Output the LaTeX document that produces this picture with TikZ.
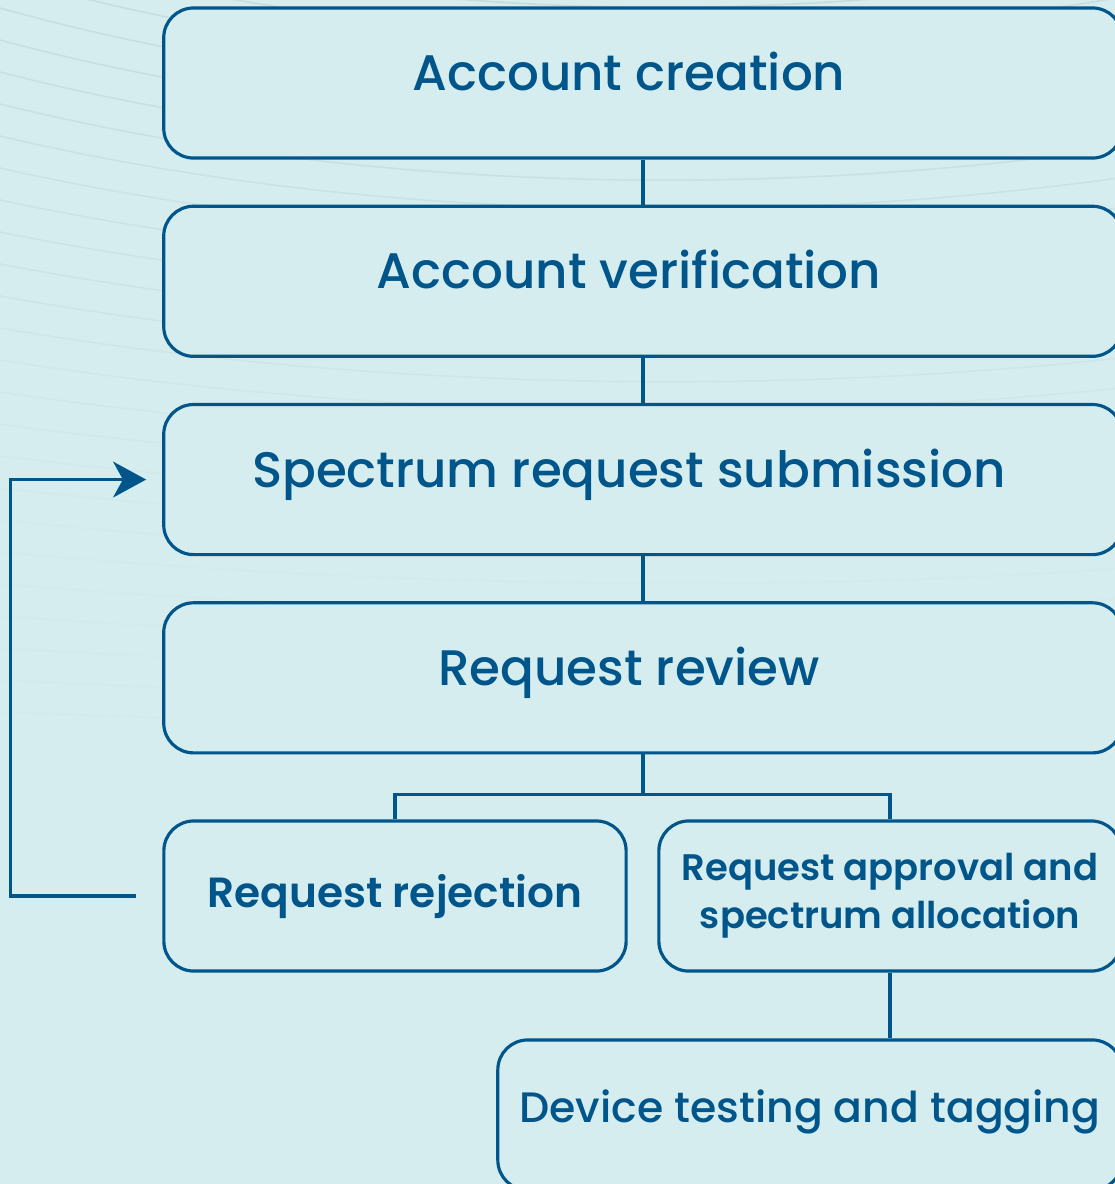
\documentclass[tikz,border=0pt]{standalone}
\usepackage{fontspec}
\setmainfont{Poppins}[UprightFont=* Medium, BoldFont=* SemiBold]
\usetikzlibrary{arrows.meta,calc,positioning}
\definecolor{flowblue}{HTML}{00558A}
\definecolor{paleteal}{HTML}{D5EDEE}
\definecolor{swirl}{HTML}{C2D6D9}

\begin{document}
\begin{tikzpicture}[
  x=0.01cm, y=-0.01cm,
  >={Stealth[length=9.4pt, width=10.2pt, inset=2.8pt]},
  stepbox/.style ={draw=flowblue, fill=paleteal, line width=0.9pt, rounded corners=8.5pt,
                   text=flowblue, inner sep=0pt,
                   minimum width=9.58cm, minimum height=1.5cm,
                   text height=0.37cm, text depth=0.22cm,
                   font=\fontsize{14.2}{17}\selectfont},
  mainbox/.style ={stepbox, execute at end node={\kern0.28cm}},
  branchbox/.style={stepbox, minimum width=4.62cm, align=center,
                   text height=0.36cm, text depth=0.14cm,
                   font=\bfseries\fontsize{10.5}{13.7}\selectfont},
  link/.style    ={flowblue, line width=0.9pt},
  node distance=0.45cm
]

% --- page and faint background swirl --------------------------------
\useasboundingbox (0,0) rectangle (1115,1184);
\clip (0,0) rectangle (1115,1184);
\fill[paleteal] (0,0) rectangle (1115,1184);

\foreach \i in {-3,...,22}{
  \pgfmathsetmacro{\ya}{8+32*\i}
  \pgfmathsetmacro{\slope}{0.28-0.011*\i}
  \pgfmathsetmacro{\lineop}{max(0.08,0.75-0.035*(\i+3))}
  \draw[swirl, line width=0.45pt, opacity=\lineop]
    (0,\ya) .. controls (350,{\ya+350*\slope}) and (750,{\ya+350*\slope+10}) .. (1115,{\ya+180*\slope});
}

% --- main chain -------------------------------------------------------
\node[mainbox] (create) at (643,83) {Account creation};
\node[mainbox, below=of create] (verify) {Account verification};
\node[mainbox, below=of verify] (submit) {Spectrum request submission};
\node[mainbox, below=of submit] (review) {Request review};

% --- outcome of the review
\node[branchbox, font=\bfseries\fontsize{12}{14}\selectfont] (reject) at (395,896)
  {Request rejection};
\node[branchbox, text height={}, text depth={}] (approve) at (890,896)
  {Request approval and\\spectrum allocation};
\node[stepbox, minimum width=6.24cm, font=\fontsize{12.1}{14}\selectfont] (device) at (810,1115)
  {Device testing and tagging};

\draw[link] (create) -- (verify);
\draw[link] (verify) -- (submit);
\draw[link] (submit) -- (review);

\draw[link] (review.south) -- ++(0,40) coordinate (fork);
\draw[link] (fork) -| (reject.north);
\draw[link] (fork) -| (approve.north);
\draw[link] (approve.south) -- (approve.south |- device.north);

% back to submission after a rejection
\draw[link, ->, shorten <=0.26cm, shorten >=0.16cm]
  (reject.west) -- ++(-152,0) |- (submit.west);

\end{tikzpicture}
\end{document}
